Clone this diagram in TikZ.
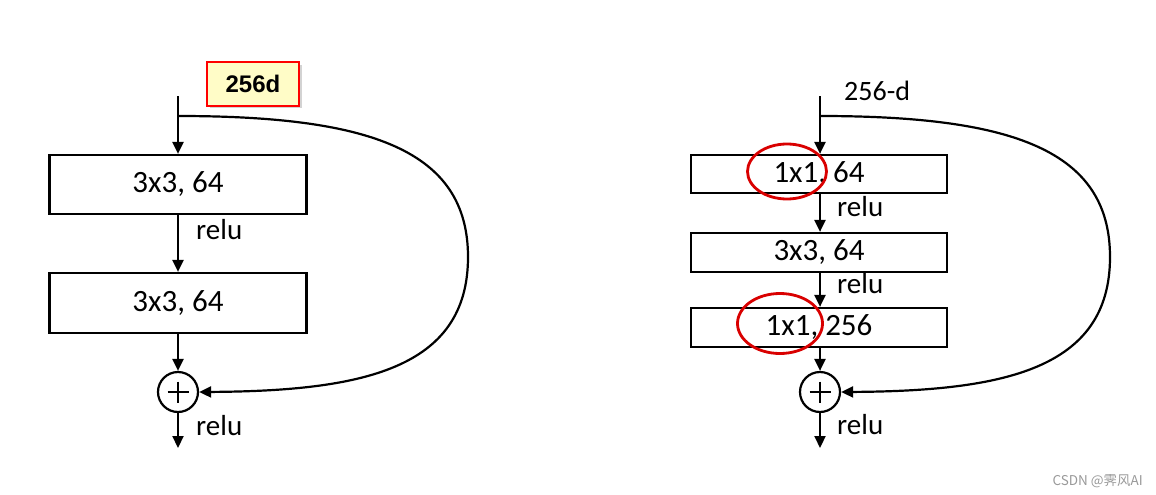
\documentclass[tikz,border=0pt]{standalone}
\usepackage{fontspec}
\setmainfont{Carlito}
\newfontfamily\tagfont{Liberation Sans}
\newfontfamily\cjkfont{Noto Sans CJK SC}
\usepackage{tikz}
\usetikzlibrary{positioning, arrows.meta, calc, shadows, shapes.geometric}

\begin{document}
\begin{tikzpicture}[
  x=1pt, y=-1pt,
  >={Triangle[length=12pt, width=11pt]},
  layer/.style={rectangle, draw, line width=2.2pt, minimum width=#1,
    inner sep=0pt, font=\fontsize{31}{36}\selectfont},
  layer/.default={257pt},
  flow/.style={->, line width=2.2pt},
  act/.style={anchor=base west, inner sep=0pt, font=\fontsize{29}{34}\selectfont},
  addop/.style={circle, draw, line width=2.2pt, minimum size=40pt, inner sep=0pt,
    path picture={\draw[line width=2.2pt]
      ($(path picture bounding box.center)+(-10.5,0)$) --
      ($(path picture bounding box.center)+(10.5,0)$)
      ($(path picture bounding box.center)+(0,-10.5)$) --
      ($(path picture bounding box.center)+(0,10.5)$);}},
  mark1/.style={ellipse, draw=red!85!black, line width=2.8pt},
]
\useasboundingbox (0,0) rectangle (1156,495);

% --- Left block: basic ---
\coordinate (inL)    at (178,96);
\coordinate (splitL) at (178,116);
\coordinate (farL)   at (468,257);
\node[layer, minimum height=59pt] (b1L) at (178,184.5) {3x3, 64};
\node[layer, minimum height=60pt] (b2L) at (178,303) {3x3, 64};
\node[addop] (sumL) at (178,392) {};
\coordinate (outL) at (178,448);

\node[rectangle, draw=red, line width=2pt, fill=yellow!22, minimum width=92pt,
  minimum height=43pt, font=\tagfont\bfseries\fontsize{24}{28}\selectfont,
  drop shadow={opacity=0.35, shadow xshift=2.5pt, shadow yshift=-2.5pt}]
  (dimL) at (253,84) {256d\hspace{12pt}};

\draw[flow] (inL) -- (b1L.north);
\draw[flow] (b1L) -- (b2L);
\draw[flow] (b2L) -- (sumL);
\draw[flow] (sumL) -- (outL);
\draw[flow] (splitL) .. controls (370,116) and (468,150) .. (farL)
  .. controls (468,370) and (360,391) .. (sumL.east);

\node[act] (r1L) at (196,239) {relu};
\node[act] (r2L) at (196,435) {relu};

% --- Right block: bottleneck ---
\coordinate (inR)    at (820,96);
\coordinate (splitR) at (820,116);
\coordinate (farR)   at (1110,257);
\node[layer=256pt, minimum height=38pt] (b1R) at (819,174) {1x1, 64};
\node[layer=256pt, minimum height=39pt] (b2R) at (819,252.5) {3x3, 64};
\node[layer=256pt, minimum height=39pt] (b3R) at (819,327.5) {1x1, 256};
\node[addop] (sumR) at (820,392) {};
\coordinate (outR) at (820,448);

\node[anchor=base west, inner sep=0pt, font=\fontsize{28}{33}\selectfont]
  (dimR) at (844,100) {256-d};

\draw[flow] (inR) -- (inR |- b1R.north);
\draw[flow] (inR |- b1R.south) -- (inR |- b2R.north);
\draw[flow] (inR |- b2R.south) -- (inR |- b3R.north);
\draw[flow] (inR |- b3R.south) -- (sumR);
\draw[flow] (sumR) -- (outR);
\draw[flow] (splitR) .. controls (1012,116) and (1110,150) .. (farR)
  .. controls (1110,370) and (1002,391) .. (sumR.east);

\node[act] (r1R) at (837,216) {relu};
\node[act] (r2R) at (837,293) {relu};
\node[act] (r3R) at (837,434) {relu};

% red marks on the 1x1 layers
\node[mark1, minimum width=79pt, minimum height=55pt] (m1) at (787,171.5) {};
\node[mark1, minimum width=85pt, minimum height=60pt] (m2) at (780,323.5) {};

% watermark
\node[anchor=base east, inner sep=0pt, text=black!40,
  font=\cjkfont\fontsize{13.5}{16}\selectfont] (wm) at (1143,485) {CSDN @霁风AI};

\end{tikzpicture}
\end{document}
